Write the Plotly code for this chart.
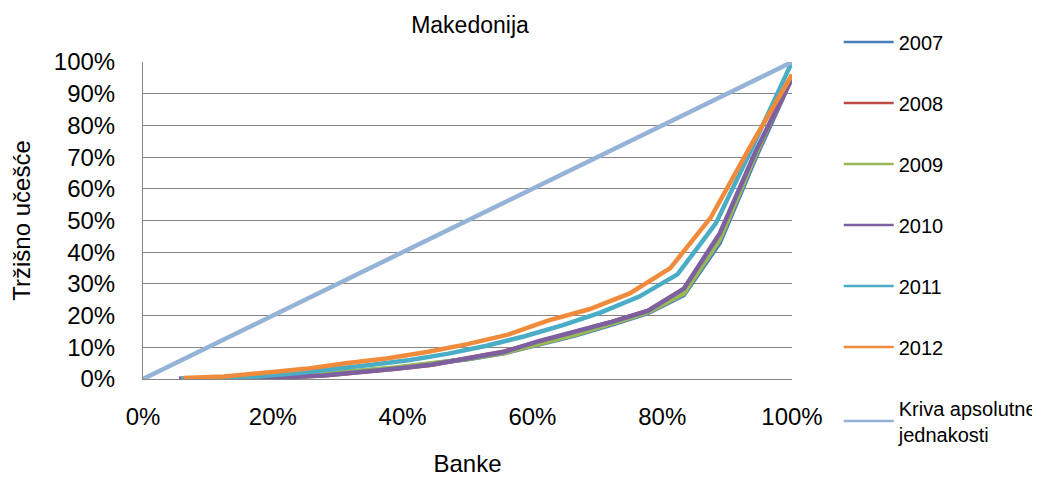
import plotly.graph_objects as go

# Lorenz-curve data (share of banks vs. cumulative market share)
x18 = [i / 18 for i in range(1, 19)]
x17 = [i / 17 for i in range(1, 18)]
x16 = [i / 16 for i in range(1, 17)]

y2007 = [0.0, 0.002, 0.005, 0.010, 0.017, 0.025, 0.035, 0.047, 0.062, 0.081, 0.108, 0.138, 0.172, 0.208, 0.265, 0.43, 0.70, 0.95]
y2008 = [0.0, 0.001, 0.003, 0.006, 0.011, 0.020, 0.032, 0.045, 0.065, 0.086, 0.118, 0.148, 0.180, 0.215, 0.283, 0.455, 0.715, 0.95]
y2009 = [0.0, 0.002, 0.005, 0.010, 0.017, 0.026, 0.036, 0.048, 0.063, 0.082, 0.110, 0.140, 0.175, 0.210, 0.270, 0.44, 0.71, 0.96]
y2010 = [0.0, 0.001, 0.003, 0.006, 0.011, 0.020, 0.032, 0.045, 0.065, 0.085, 0.120, 0.150, 0.180, 0.215, 0.285, 0.46, 0.72, 0.95]
y2011 = [0.001, 0.003, 0.008, 0.018, 0.030, 0.045, 0.060, 0.080, 0.105, 0.135, 0.170, 0.210, 0.260, 0.330, 0.49, 0.74, 1.00]
y2012 = [0.003, 0.008, 0.020, 0.032, 0.050, 0.065, 0.085, 0.110, 0.140, 0.185, 0.220, 0.270, 0.350, 0.51, 0.74, 0.96]
x_eq = [0, 1]
y_eq = [0, 1]

series = [
    ("2007", x18, y2007, "#4A7EBB"),
    ("2008", x18, y2008, "#BE4B48"),
    ("2009", x18, y2009, "#98B954"),
    ("2010", x18, y2010, "#7D60A0"),
    ("2011", x17, y2011, "#4BACC6"),
    ("2012", x16, y2012, "#F08B3C"),
    ("Kriva apsolutne<br>jednakosti", x_eq, y_eq, "#95B3D7"),
]

fig = go.Figure()
for i, (name, xs, ys, col) in enumerate(series):
    fig.add_trace(go.Scatter(
        x=xs, y=ys, mode="lines", name=name, legendgroup=str(i),
        showlegend=False, line=dict(color=col, width=4.5),
    ))
# legend entries with the thinner sample lines seen in the reference
for i, (name, xs, ys, col) in enumerate(series):
    fig.add_trace(go.Scatter(
        x=[None], y=[None], mode="lines", name=name, legendgroup=str(i),
        showlegend=True, line=dict(color=col, width=2.5), hoverinfo="skip",
    ))

W, H = 1032, 469  # page body has an 8px margin
font = "Liberation Sans, Arial, sans-serif"
fig.update_layout(
    width=W, height=H,
    margin=dict(l=135, r=248, t=54, b=98, autoexpand=False),
    paper_bgcolor="white", plot_bgcolor="white",
    font=dict(family=font, color="#000000", size=24),
    title=dict(text="Makedonija", x=462 / W, xanchor="center",
               y=1 - 17 / H, yanchor="middle", font=dict(size=23)),
    legend=dict(x=1.072, xanchor="left", y=1.125, yanchor="top",
                font=dict(size=20), tracegroupgap=32, itemwidth=50,
                maxheight=460, bgcolor="rgba(0,0,0,0)"),
    xaxis=dict(range=[0, 1], tickvals=[0, 0.2, 0.4, 0.6, 0.8, 1.0], tickformat=".0%",
               showgrid=False, showline=True, linecolor="#868686", linewidth=1,
               ticks="", ticklabelstandoff=16, zeroline=False, automargin=False,
               title=dict(text="Banke", standoff=36, font=dict(size=24))),
    yaxis=dict(range=[0, 1], dtick=0.1, tickformat=".0%",
               showgrid=True, gridcolor="#868686", gridwidth=1,
               showline=True, linecolor="#868686", linewidth=1,
               ticks="", ticklabelstandoff=22, zeroline=False, automargin=False,
               title=dict(text="Tržišno učešće", standoff=22, font=dict(size=24))),
)

fig.write_html("out.html")
